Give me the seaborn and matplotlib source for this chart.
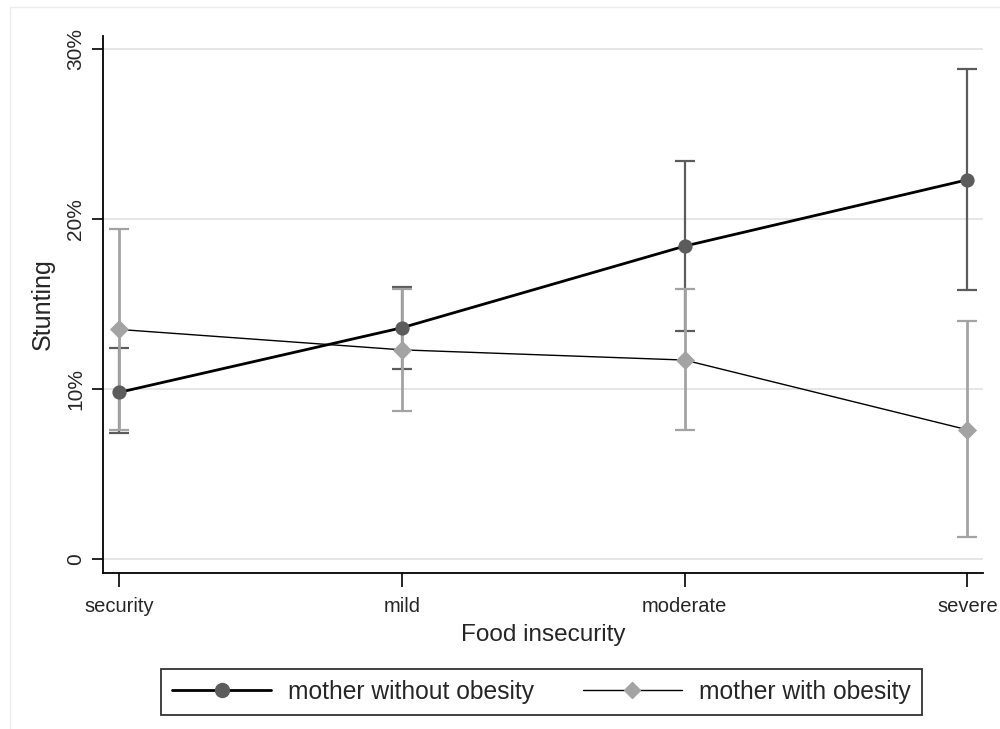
import pandas as pd
import numpy as np
import seaborn as sns
import matplotlib.pyplot as plt
from matplotlib.lines import Line2D

categories = ['security', 'mild', 'moderate', 'severe']
no_ob = [9.8, 13.6, 18.4, 22.3]
no_ob_lo = [7.4, 11.2, 13.4, 15.8]
no_ob_hi = [12.4, 16.0, 23.4, 28.8]
ob = [13.5, 12.3, 11.7, 7.6]
ob_lo = [7.6, 8.7, 7.6, 1.3]
ob_hi = [19.4, 15.9, 15.9, 14.0]

dark = '#5c5c5c'
light = '#a3a3a3'

sns.set_style('white')
plt.rcParams['font.family'] = ['Liberation Sans', 'DejaVu Sans']

fig = plt.figure(figsize=(10, 7.29), dpi=100)
ax = fig.add_axes([0.103, 0.214, 0.88, 0.737])

df = pd.DataFrame({
    'x': list(range(4)) * 2,
    'y': no_ob + ob,
    'group': ['mother without obesity'] * 4 + ['mother with obesity'] * 4,
})
pos = np.arange(4)

# confidence intervals
ax.errorbar(pos, no_ob, yerr=[np.subtract(no_ob, no_ob_lo), np.subtract(no_ob_hi, no_ob)],
            fmt='none', ecolor=dark, elinewidth=1.6, capsize=7, capthick=1.6, zorder=2)
ax.errorbar(pos, ob, yerr=[np.subtract(ob, ob_lo), np.subtract(ob_hi, ob)],
            fmt='none', ecolor=light, elinewidth=2.0, capsize=7, capthick=1.6, zorder=2.5)

sns.lineplot(data=df[df.group == 'mother without obesity'], x='x', y='y', ax=ax,
             color='black', linewidth=2.0, zorder=3, legend=False)
sns.lineplot(data=df[df.group == 'mother with obesity'], x='x', y='y', ax=ax,
             color='black', linewidth=1.0, zorder=3, legend=False)
ax.scatter(pos, no_ob, s=105, color=dark, marker='o', zorder=4, linewidths=0)
ax.scatter(pos, ob, s=95, color=light, marker='D', zorder=4, linewidths=0)

ax.set_xlim(-0.057, 3.055)
ax.set_ylim(-0.82, 30.77)
ax.set_xticks(pos)
ax.set_xticklabels(categories, fontsize=14.5)
ax.set_yticks([0, 10, 20, 30])
ax.set_yticklabels(['0', '10%', '20%', '30%'], fontsize=15, rotation=90, va='center')
ax.yaxis.grid(True, color='#e4e4e4', linewidth=1.3)
ax.set_axisbelow(True)
ax.tick_params(axis='y', direction='out', length=8, width=1.2, color='black', left=True, pad=5)
ax.tick_params(axis='x', direction='out', length=10, width=1.2, color='black', bottom=True, pad=7)
for s in ['top', 'right']:
    ax.spines[s].set_visible(False)
for s in ['left', 'bottom']:
    ax.spines[s].set_color('black')
    ax.spines[s].set_linewidth(1.3)
ax.set_xlabel('Food insecurity', fontsize=17.5, labelpad=6)
ax.set_ylabel('Stunting', fontsize=18, labelpad=8)

handles = [
    Line2D([0], [0], color='black', lw=2.0, marker='o', markersize=10,
           markerfacecolor=dark, markeredgecolor=dark),
    Line2D([0], [0], color='black', lw=1.0, marker='D', markersize=8,
           markerfacecolor=light, markeredgecolor=light),
]
leg = fig.legend(handles, ['mother without obesity', 'mother with obesity'],
                 loc='center', bbox_to_anchor=(0.5415, 0.051), ncol=2, fontsize=17.7,
                 frameon=True, fancybox=False, edgecolor='black', handlelength=4.0,
                 columnspacing=2.0, borderpad=0.45, handletextpad=0.7, borderaxespad=0)
leg.get_frame().set_linewidth(1.3)

# faint outer graph-region edge (top and left only, the picture is cropped)
fig.add_artist(Line2D([0.01, 1.0], [0.9904, 0.9904], transform=fig.transFigure,
                      color='#ececec', linewidth=1))
fig.add_artist(Line2D([0.01, 0.01], [0.0, 0.9904], transform=fig.transFigure,
                      color='#ececec', linewidth=1))

fig.savefig('out.png', dpi=100, facecolor='white')
